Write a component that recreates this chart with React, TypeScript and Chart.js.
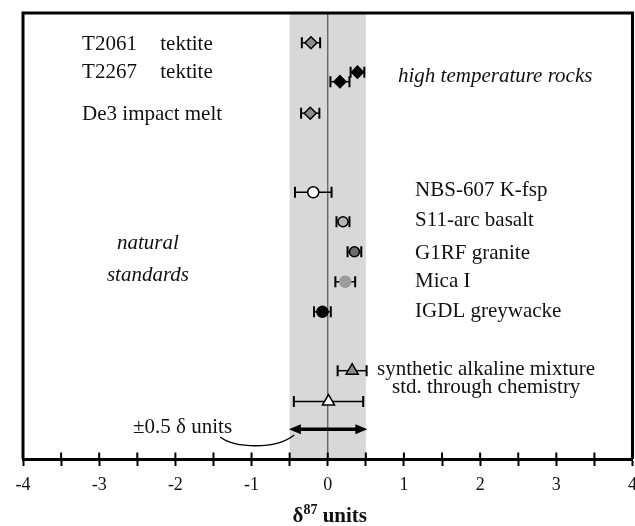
import React, { useEffect, useRef } from 'react';
import { Chart, registerables } from 'chart.js';

Chart.register(...registerables);

// ---- data ----
const sampleNames = [
  'T2061 tektite',
  'T2267 tektite (a)',
  'T2267 tektite (b)',
  'De3 impact melt',
  'NBS-607 K-fsp',
  'S11-arc basalt',
  'G1RF granite',
  'Mica I',
  'IGDL greywacke',
  'synthetic alkaline mixture',
  'std. through chemistry',
];
const delta87 = [-0.22, 0.16, 0.39, -0.23, -0.19, 0.2, 0.35, 0.23, -0.07, 0.32, 0.01];
const delta87Err = [0.12, 0.125, 0.09, 0.12, 0.24, 0.085, 0.09, 0.13, 0.11, 0.19, 0.455];
const rowPosition = [1.0, 2.31, 1.99, 3.37, 6.03, 7.02, 8.03, 9.04, 10.05, 12.03, 13.07];
const markerStyle = ['rectRot', 'rectRot', 'rectRot', 'rectRot', 'circle', 'circle', 'circle', 'circle', 'circle', 'triangle', 'triangle'];
const markerFill = ['#8c8c8c', '#000000', '#000000', '#8c8c8c', '#ffffff', '#b4b4b4', '#6a6a6a', '#9c9c9c', '#000000', '#8c8c8c', '#ffffff'];
const markerEdge = ['#000', '#000', '#000', '#000', '#000', '#000', '#000', '#9c9c9c', '#000', '#000', '#000'];
const markerSize = [6, 6, 6, 6, 5.5, 5, 5, 5.5, 5.5, 7, 7];

const xTickLabels = ['-4', '-3', '-2', '-1', '0', '1', '2', '3', '4'];
const bandHalfWidth = 0.5; // ±0.5 δ units

// annotation texts (x in δ87 units, row on the vertical row scale)
const annotationTexts = [
  { text: 'T2061', x: -3.224, row: 1.0, italic: false },
  { text: 'tektite', x: -2.198, row: 1.0, italic: false },
  { text: 'T2267', x: -3.224, row: 1.97, italic: false },
  { text: 'tektite', x: -2.198, row: 1.97, italic: false },
  { text: 'De3 impact melt', x: -3.224, row: 3.37, italic: false },
  { text: 'high temperature rocks', x: 0.922, row: 2.09, italic: true },
  { text: 'NBS-607 K-fsp', x: 1.146, row: 5.93, italic: false },
  { text: 'S11-arc basalt', x: 1.146, row: 6.92, italic: false },
  { text: 'G1RF granite', x: 1.146, row: 8.05, italic: false },
  { text: 'Mica I', x: 1.146, row: 8.98, italic: false },
  { text: 'IGDL greywacke', x: 1.146, row: 9.99, italic: false },
  { text: 'synthetic alkaline mixture', x: 0.646, row: 11.95, italic: false },
  { text: 'std. through chemistry', x: 0.843, row: 12.55, italic: false },
  { text: '\u00B10.5 \u03B4 units', x: -2.555, row: 13.9, italic: false },
];
const centeredTexts = [
  { text: 'natural', x: -2.36, row: 7.72 },
  { text: 'standards', x: -2.36, row: 8.78 },
];

const FONT = '"Liberation Serif", "Times New Roman", serif';

const decorPlugin = {
  id: 'decor',
  beforeDraw(chart: any) {
    const { ctx, chartArea } = chart;
    const xs = chart.scales.x;
    ctx.save();
    const l = xs.getPixelForValue(-bandHalfWidth);
    const r = xs.getPixelForValue(bandHalfWidth);
    ctx.fillStyle = '#d8d8d8';
    ctx.fillRect(l, chartArea.top, r - l, chartArea.bottom - chartArea.top);
    const z = xs.getPixelForValue(0);
    ctx.strokeStyle = '#555';
    ctx.lineWidth = 1.2;
    ctx.beginPath();
    ctx.moveTo(z, chartArea.top);
    ctx.lineTo(z, chartArea.bottom);
    ctx.stroke();
    ctx.restore();
  },
  beforeDatasetsDraw(chart: any) {
    const { ctx } = chart;
    const xs = chart.scales.x;
    const ys = chart.scales.y;
    ctx.save();
    ctx.strokeStyle = '#000';
    for (let i = 0; i < delta87.length; i++) {
      const y = ys.getPixelForValue(rowPosition[i]);
      const x1 = xs.getPixelForValue(delta87[i] - delta87Err[i]);
      const x2 = xs.getPixelForValue(delta87[i] + delta87Err[i]);
      ctx.lineWidth = 1.5;
      ctx.beginPath();
      ctx.moveTo(x1, y);
      ctx.lineTo(x2, y);
      ctx.stroke();
      ctx.lineWidth = 2;
      ctx.beginPath();
      ctx.moveTo(x1, y - 5.5);
      ctx.lineTo(x1, y + 5.5);
      ctx.moveTo(x2, y - 5.5);
      ctx.lineTo(x2, y + 5.5);
      ctx.stroke();
    }
    ctx.restore();
  },
  afterDatasetsDraw(chart: any) {
    const { ctx } = chart;
    const xs = chart.scales.x;
    const ys = chart.scales.y;
    ctx.save();
    // double arrow ±0.5
    const y = ys.getPixelForValue(14.0);
    const a = xs.getPixelForValue(-0.51);
    const b = xs.getPixelForValue(0.52);
    const hl = 12;
    const hw = 5;
    ctx.strokeStyle = '#000';
    ctx.fillStyle = '#000';
    ctx.lineWidth = 3.5;
    ctx.beginPath();
    ctx.moveTo(a + hl - 2, y);
    ctx.lineTo(b - hl + 2, y);
    ctx.stroke();
    ctx.beginPath();
    ctx.moveTo(a, y);
    ctx.lineTo(a + hl, y - hw);
    ctx.lineTo(a + hl, y + hw);
    ctx.closePath();
    ctx.fill();
    ctx.beginPath();
    ctx.moveTo(b, y);
    ctx.lineTo(b - hl, y - hw);
    ctx.lineTo(b - hl, y + hw);
    ctx.closePath();
    ctx.fill();
    // leader curve
    ctx.lineWidth = 1.3;
    ctx.beginPath();
    ctx.moveTo(xs.getPixelForValue(-1.413), ys.getPixelForValue(14.26));
    ctx.bezierCurveTo(
      xs.getPixelForValue(-1.217), ys.getPixelForValue(14.63),
      xs.getPixelForValue(-0.69), ys.getPixelForValue(14.7),
      xs.getPixelForValue(-0.44), ys.getPixelForValue(14.19)
    );
    ctx.stroke();
    ctx.restore();
  },
  afterDraw(chart: any) {
    const { ctx, chartArea } = chart;
    const xs = chart.scales.x;
    const ys = chart.scales.y;
    ctx.save();
    // frame
    ctx.strokeStyle = '#000';
    ctx.lineWidth = 3;
    ctx.beginPath();
    ctx.moveTo(chartArea.left, chartArea.bottom);
    ctx.lineTo(chartArea.left, chartArea.top);
    ctx.lineTo(chartArea.right, chartArea.top);
    ctx.lineTo(chartArea.right, chartArea.bottom);
    ctx.stroke();
    // tick marks above the axis
    ctx.lineWidth = 2;
    ctx.beginPath();
    for (const t of xs.ticks) {
      const px = xs.getPixelForValue(t.value);
      ctx.moveTo(px, chartArea.bottom - 6.5);
      ctx.lineTo(px, chartArea.bottom);
    }
    ctx.stroke();
    // texts
    ctx.fillStyle = '#111';
    ctx.textBaseline = 'alphabetic';
    ctx.textAlign = 'left';
    for (const t of annotationTexts) {
      ctx.font = `${t.italic ? 'italic ' : ''}21px ${FONT}`;
      ctx.fillText(t.text, xs.getPixelForValue(t.x), ys.getPixelForValue(t.row) + 6.8);
    }
    ctx.textAlign = 'center';
    ctx.font = `italic 21px ${FONT}`;
    for (const t of centeredTexts) {
      ctx.fillText(t.text, xs.getPixelForValue(t.x), ys.getPixelForValue(t.row) + 6.8);
    }
    // axis title δ87 units
    ctx.textAlign = 'left';
    const big = `bold 21px ${FONT}`;
    const small = `bold 14px ${FONT}`;
    ctx.font = big;
    const w1 = ctx.measureText('\u03B4').width;
    const w3 = ctx.measureText(' units').width;
    ctx.font = small;
    const w2 = ctx.measureText('87').width;
    const total = w1 + w2 + w3;
    const cx = xs.getPixelForValue(0) + 2;
    const base = chart.height - 4;
    let x0 = cx - total / 2;
    ctx.font = big;
    ctx.fillText('\u03B4', x0, base);
    ctx.font = small;
    ctx.fillText('87', x0 + w1, base - 8);
    ctx.font = big;
    ctx.fillText(' units', x0 + w1 + w2, base);
    ctx.restore();
  },
};

export default function App() {
  const canvasRef = useRef<HTMLCanvasElement | null>(null);

  useEffect(() => {
    const canvas = canvasRef.current;
    if (!canvas) return;
    const points = delta87.map((v, i) => ({ x: v, y: rowPosition[i] }));
    const chart = new Chart(canvas, {
      type: 'scatter',
      data: {
        datasets: [
          {
            label: 'δ87',
            data: points,
            pointStyle: markerStyle as any,
            pointBackgroundColor: markerFill,
            pointBorderColor: markerEdge,
            pointBorderWidth: 1.5,
            pointRadius: markerSize,
            pointHoverRadius: markerSize,
            showLine: false,
          } as any,
        ],
      },
      options: {
        responsive: false,
        animation: false,
        devicePixelRatio: 1,
        events: [],
        layout: { autoPadding: false, padding: { left: 23, right: 2.5, top: 13, bottom: 0 } } as any,
        plugins: {
          legend: { display: false },
          tooltip: { enabled: false },
          title: { display: false },
        },
        scales: {
          x: {
            type: 'linear',
            position: 'bottom',
            min: -4,
            max: 4,
            offset: false,
            ticks: {
              stepSize: 0.5,
              autoSkip: false,
              maxRotation: 0,
              padding: 8,
              color: '#111',
              font: { family: FONT, size: 18 },
              callback: (v: any) => (Number.isInteger(v) ? xTickLabels[v + 4] : ''),
            },
            grid: {
              drawOnChartArea: false,
              drawTicks: true,
              tickLength: 7,
              tickWidth: 2,
              tickColor: '#000',
              color: '#000',
            },
            border: { display: true, color: '#000', width: 3 },
            afterFit: (scale: any) => {
              scale.height = 67;
              scale.paddingLeft = 0;
              scale.paddingRight = 0;
            },
          } as any,
          y: {
            type: 'linear',
            display: false,
            min: 0,
            max: 15,
            reverse: true,
          },
        },
      },
      plugins: [decorPlugin],
    });
    return () => chart.destroy();
  }, []);

  return (
    <div style={{ position: 'absolute', left: 0, top: 0, width: 635, height: 526, background: '#fff' }}>
      <canvas ref={canvasRef} width={635} height={526} style={{ display: 'block' }} />
    </div>
  );
}
